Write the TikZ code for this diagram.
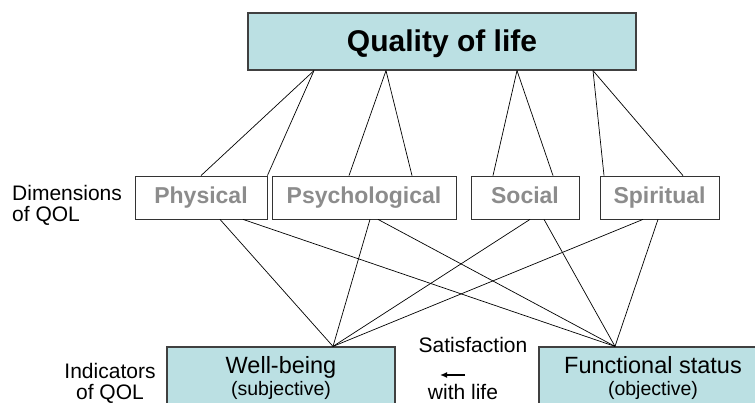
\documentclass[tikz,border=0pt]{standalone}
\usepackage{fontspec}
\setmainfont{Liberation Sans}
\usetikzlibrary{arrows.meta}

\definecolor{qolteal}{HTML}{BBE0E3}
\definecolor{dimtext}{HTML}{8C8C8C}

\tikzset{
  qolbox/.style={draw=black!75, line width=1.2pt, fill=qolteal, inner sep=0pt, align=center},
  indbox/.style={qolbox, minimum width=228pt, minimum height=63pt,
    font=\fontsize{23.5}{22}\selectfont},
  dimbox/.style={draw=black!80, line width=0.8pt, fill=white, inner sep=0pt,
    minimum height=43pt, text height=16.5pt, text depth=4.5pt,
    text=dimtext, font=\fontsize{23}{26}\selectfont\bfseries},
  sidelabel/.style={inner sep=0pt, font=\fontsize{21}{21}\selectfont},
  link/.style={draw=black, line width=0.7pt},
}
\newcommand{\subline}[1]{{\fontsize{19.5}{22}\selectfont #1}}

\begin{document}
\begin{tikzpicture}[x=1pt, y=-1pt]
        \clip (0,0) rectangle (755,403);

        % Top box
        \node [qolbox, minimum width=388pt, minimum height=57pt, text height=21pt, text depth=0pt,
          font=\fontsize{30}{32}\selectfont\bfseries] (qol) at (442,41.5) {Quality of life};

        % Dimensions
        \node [dimbox, minimum width=132pt] (phys) at (201,197.5) {Physical};
        \node [dimbox, minimum width=184pt] (psych) at (364,197.5) {Psychological};
        \node [dimbox, minimum width=108pt] (soc) at (525,197.5) {Social};
        \node [dimbox, minimum width=119pt] (spir) at (659.5,197.5) {Spiritual};
        \node [sidelabel, anchor=west, align=left] (dimlbl) at (12,205) {Dimensions\\ of QOL};

        % Indicators
        \node [indbox] (wb) at (281,378.5) {Well-being\\\subline{(subjective)}};
        \node [indbox] (fs) at (653,378.5) {Functional status\\\subline{(objective)}};
        \node [sidelabel, align=center] (indlbl) at (110,383) {Indicators\\of QOL};

        % Satisfaction with life
        \node [sidelabel] (sat) at (473,345) {Satisfaction};
        \node [sidelabel] (life) at (463,392) {with life};
        \coordinate (arrR) at (465,375);
        \coordinate (arrL) at (440,375);
        \draw [-{Latex[length=7pt,width=6pt]}, line width=1.6pt] (arrR) -- (arrL);

        % Quality of life to dimensions
        \draw [link] ([xshift=-128pt]qol.south) -- (phys.north);
        \draw [link] ([xshift=-128pt]qol.south) -- (phys.north east);
        \draw [link] ([xshift=-56pt]qol.south) -- ([xshift=-15pt]psych.north);
        \draw [link] ([xshift=-56pt]qol.south) -- ([xshift=48pt]psych.north);
        \draw [link] ([xshift=75pt]qol.south) -- ([xshift=-32pt]soc.north);
        \draw [link] ([xshift=75pt]qol.south) -- ([xshift=28pt]soc.north);
        \draw [link] ([xshift=151pt]qol.south) -- ([xshift=-55.5pt]spir.north);
        \draw [link] ([xshift=151pt]qol.south) -- ([xshift=23.5pt]spir.north);

        % Dimensions to indicators
        \draw [link] ([xshift=19pt]phys.south) -- ([xshift=52pt]wb.north);
        \draw [link] ([xshift=42pt]phys.south) -- ([xshift=-38pt]fs.north);
        \draw [link] ([xshift=6pt]psych.south) -- ([xshift=52pt]wb.north);
        \draw [link] ([xshift=14pt]psych.south) -- ([xshift=-38pt]fs.north);
        \draw [link] ([xshift=5pt]soc.south) -- ([xshift=52pt]wb.north);
        \draw [link] ([xshift=19pt]soc.south) -- ([xshift=-38pt]fs.north);
        \draw [link] ([xshift=-16.5pt]spir.south) -- ([xshift=52pt]wb.north);
        \draw [link] ([xshift=-1.5pt]spir.south) -- ([xshift=-38pt]fs.north);
    \end{tikzpicture}
\end{document}
